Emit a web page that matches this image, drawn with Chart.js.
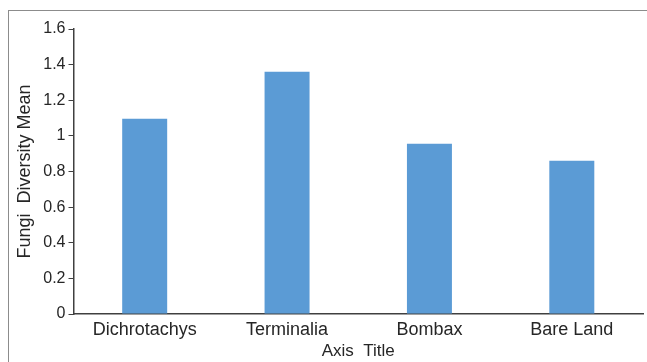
<!DOCTYPE html>
<html>
<head>
<meta charset="utf-8">
<script src="https://cdn.jsdelivr.net/npm/chart.js@4/dist/chart.umd.min.js"></script>
<style>
  html, body { margin: 0; padding: 0; background: #ffffff; }
  #wrap { width: 647px; height: 362px; position: relative; }
</style>
</head>
<body>
<div id="wrap"><canvas id="c" width="647" height="362"></canvas></div>
<script>
// Mean fungal diversity per site
const categories = ['Dichrotachys', 'Terminalia', 'Bombax', 'Bare Land'];
const diversityMean = [1.096, 1.36, 0.956, 0.861];
const yTicks = [0, 0.2, 0.4, 0.6, 0.8, 1, 1.2, 1.4, 1.6];

const FONT = '"Liberation Sans", Arial, sans-serif';
const TEXT = '#262626';
const AXIS = '#404040';

// Outer frame of the chart area
const framePlugin = {
  id: 'frame',
  beforeDraw(chart) {
    const ctx = chart.ctx;
    ctx.save();
    ctx.fillStyle = '#ffffff';
    ctx.fillRect(0, 0, chart.width, chart.height);
    ctx.strokeStyle = '#8c8c8c';
    ctx.lineWidth = 1;
    ctx.strokeRect(8.5, 10.5, chart.width + 10, chart.height + 10);
    ctx.restore();
  }
};

new Chart(document.getElementById('c'), {
  type: 'bar',
  data: {
    labels: categories,
    datasets: [{
      data: diversityMean,
      backgroundColor: '#5B9BD5',
      borderWidth: 0,
      categoryPercentage: 1,
      barPercentage: 0.316
    }]
  },
  options: {
    responsive: false,
    animation: false,
    devicePixelRatio: 1,
    layout: { padding: { left: 14, top: 29, right: 4, bottom: 0 } },
    plugins: { legend: { display: false }, tooltip: { enabled: false } },
    scales: {
      x: {
        offset: true,
        grid: { display: true, drawOnChartArea: false, drawTicks: false },
        border: { display: true, color: AXIS, width: 1.5 },
        ticks: { color: TEXT, font: { family: FONT, size: 18 }, padding: 5, maxRotation: 0 },
        title: { display: true, text: 'Axis  Title', color: TEXT, font: { family: FONT, size: 17 }, padding: { top: 0, bottom: 0 } },
        afterFit(scale) { scale.height = 48; }
      },
      y: {
        min: 0,
        max: 1.6,
        afterBuildTicks(scale) { scale.ticks = yTicks.map(v => ({ value: v })); },
        grid: { display: true, drawOnChartArea: false, drawTicks: true, tickLength: 5, color: AXIS, tickWidth: 1 },
        border: { display: true, color: AXIS, width: 1.5 },
        ticks: {
          color: TEXT,
          font: { family: FONT, size: 16 },
          padding: 3,
          callback: v => String(Number(v.toFixed(1)))
        },
        title: { display: true, text: 'Fungi  Diversity Mean', color: TEXT, font: { family: FONT, size: 18 }, padding: { top: 0, bottom: 2 } },
        afterFit(scale) { scale.width = 59.5; }
      }
    }
  },
  plugins: [framePlugin]
});
</script>
</body>
</html>
